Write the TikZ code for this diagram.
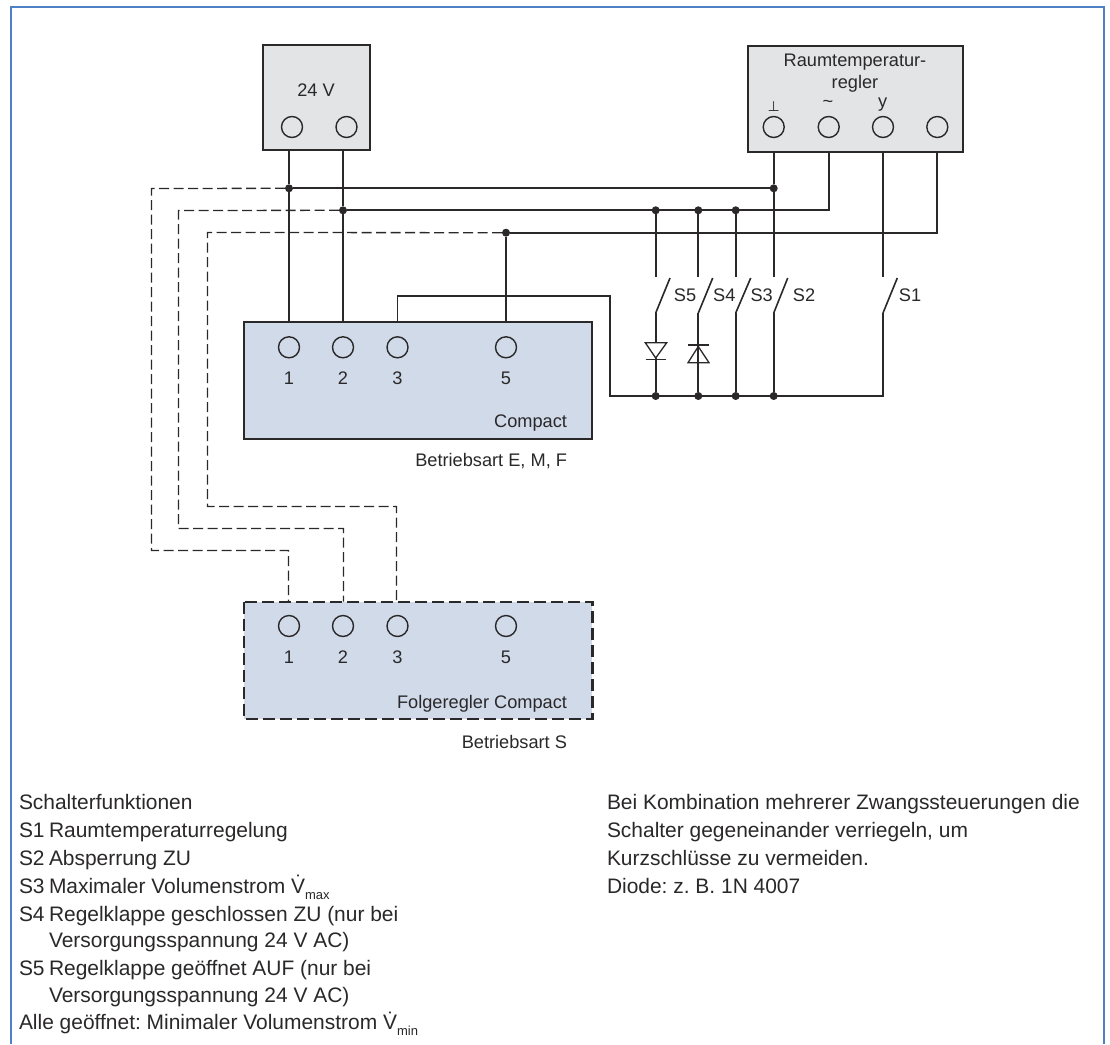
\documentclass[tikz,border=0pt]{standalone}
\usepackage{fontspec}
\setmainfont{Liberation Sans}
\newfontfamily\symfont{DejaVu Sans}
\newcommand{\lowsub}[1]{\raisebox{-0.3em}{\fontsize{13}{13}\selectfont #1}}
\definecolor{framecol}{HTML}{4F7FC4}
\definecolor{greybox}{HTML}{E3E4E6}
\definecolor{bluebox}{HTML}{D0DAE9}
\definecolor{ink}{HTML}{2A2829}
\tikzset{
  every node/.style={text=ink,inner sep=0pt,outer sep=0pt},
  box/.style={draw=ink,line width=2pt,anchor=north west},
  gbox/.style={box,fill=greybox},
  bbox/.style={box,fill=bluebox},
  term/.style={circle,draw=ink,line width=1.4pt,minimum size=21pt},
  dot/.style={circle,fill=ink,minimum size=8pt},
  wire/.style={draw=ink,line width=2pt},
  thin wire/.style={draw=ink,line width=1.7pt},
  dashwire/.style={draw=ink,line width=1.3pt,dash pattern=on 10pt off 4.5pt},
  blade/.style={draw=ink,line width=1.6pt},
  diode/.style={draw=ink,line width=1.3pt},
  lab/.style={font=\fontsize{18.2}{20}\selectfont\frenchspacing,anchor=base},
  leg/.style={font=\fontsize{20.95}{24}\selectfont\frenchspacing,anchor=base west},
}
\begin{document}
\begin{tikzpicture}[x=1pt,y=-1pt]
\useasboundingbox (0,0) rectangle (1110,1044);
\fill[white] (0,0) rectangle (1110,1044);
\draw[framecol,line width=2pt] (10.5,1044) -- (10.5,6.5) -- (1104,6.5) -- (1104,1044);

% boxes
\node[gbox,minimum width=107.5pt,minimum height=105.5pt] (psu) at (262.5,44.5) {};
\node[gbox,minimum width=215pt,minimum height=106pt] (rt) at (747.7,46) {};
\node[bbox,minimum width=348.3pt,minimum height=117.2pt] (cp) at (244,321.5) {};
\node[box,fill=bluebox,draw=none,minimum width=348.3pt,minimum height=117.2pt] (fg) at (244,601.7) {};

% terminals
\node[term] (p1) at (292,127) {};
\node[term] (p2) at (346.5,127) {};
\node[term] (r1) at (773.7,127) {};
\node[term] (r2) at (828.7,127) {};
\node[term] (r3) at (883,127) {};
\node[term] (r4) at (937.3,127) {};
\node[term] (c1) at (289,347.3) {};
\node[term] (c2) at (343,347.3) {};
\node[term] (c3) at (397.5,347.3) {};
\node[term] (c5) at (506,347.3) {};
\node[term] (f1) at (289,626) {};
\node[term] (f2) at (343,626) {};
\node[term] (f3) at (397.5,626) {};
\node[term] (f5) at (506,626) {};

% junctions
\node[dot] (j1) at (289,188.3) {};
\node[dot] (j2) at (343,210.3) {};
\node[dot] (j3) at (506,232.7) {};
\node[dot] (j4) at (773.7,188.3) {};
\node[dot] (j5) at (655.7,210.3) {};
\node[dot] (j6) at (698.3,210.3) {};
\node[dot] (j7) at (735.7,210.3) {};
\node[dot] (b5) at (655.7,396) {};
\node[dot] (b4) at (698.3,396) {};
\node[dot] (b3) at (735.7,396) {};
\node[dot] (b2) at (773.7,396) {};

% switch contacts
\coordinate (s5t) at (655.7,276.7);
\coordinate (s4t) at (698.3,276.7);
\coordinate (s3t) at (735.7,276.7);
\coordinate (s2t) at (773.7,276.7);
\coordinate (s1t) at (883,276.7);
\coordinate (s5b) at (655.7,313);
\coordinate (s4b) at (698.3,313);
\coordinate (s3b) at (735.7,313);
\coordinate (s2b) at (773.7,313);
\coordinate (s1b) at (883,313);
\coordinate (s5o) at (670,278);
\coordinate (s4o) at (712.7,278);
\coordinate (s3o) at (750.7,278);
\coordinate (s2o) at (787.7,278);
\coordinate (s1o) at (897.3,278);
\coordinate (bus) at (883,396);
\coordinate (k1) at (610,296);
\coordinate (k2) at (610,396);
\coordinate (k3) at (397.5,296);

% wiring
\draw[wire] (j1 |- psu.south) -- (j1) -- (j1 |- cp.north);
\draw[wire] (j2 |- psu.south) -- (j2) -- (j2 |- cp.north);
\draw[wire] (j1) -- (j4);
\draw[wire] (j2) -- (r2 |- j2) -- (r2 |- rt.south);
\draw[wire] (j3) -- (r4 |- j3) -- (r4 |- rt.south);
\draw[wire] (j3) -- (j3 |- cp.north);
\draw[wire] (r1 |- rt.south) -- (j4);
\draw[thin wire] (j4) -- (s2t);
\draw[thin wire] (r3 |- rt.south) -- (s1t);
\draw[thin wire] (j5) -- (s5t);
\draw[thin wire] (j6) -- (s4t);
\draw[thin wire] (j7) -- (s3t);
\draw[thin wire] (k3 |- cp.north) -- (k3) -- (k1) -- (k2) -- (bus) -- (s1b);
\draw[thin wire] (s3b) -- (b3);
\draw[thin wire] (s2b) -- (b2);

% switch blades
\draw[blade] (s5b) -- (s5o);
\draw[blade] (s4b) -- (s4o);
\draw[blade] (s3b) -- (s3o);
\draw[blade] (s2b) -- (s2o);
\draw[blade] (s1b) -- (s1o);

% diodes
\draw[thin wire] (s5b) -- (655.7,342.7);
\draw[thin wire] (655.7,358) -- (b5);
\draw[diode] (645.3,342.7) -- (666.7,342.7) -- (655.7,358) -- cycle;
\draw[diode,line width=1.7pt] (645.7,359.5) -- (666,359.5);
\draw[thin wire] (s4b) -- (698.3,345);
\draw[thin wire] (698.3,346) -- (b4);
\draw[diode] (688,362.7) -- (709,362.7) -- (698.3,346.5) -- cycle;
\draw[diode] (688,345) -- (709,345);

% dashed links
\coordinate (a1) at (151.5,188.5);
\coordinate (a2) at (151.5,550.5);
\coordinate (a3) at (288.5,550.5);
\coordinate (d1) at (178.5,210.5);
\coordinate (d2) at (178.5,528.5);
\coordinate (d3) at (343.5,528.5);
\coordinate (e1) at (207.5,232.5);
\coordinate (e2) at (207.5,506.5);
\coordinate (e3) at (396.5,506.5);
\draw[dashwire] (j1) -- (a1) -- (a2) -- (a3) -- (a3 |- fg.north);
\draw[dashwire] (j2) -- (d1) -- (d2) -- (d3) -- (d3 |- fg.north);
\draw[dashwire] (j3) -- (e1) -- (e2) -- (e3) -- (e3 |- fg.north);
\draw[draw=ink,line width=2.4pt,dash pattern=on 12pt off 5pt] (fg.north west) rectangle (fg.south east);

% labels
\node[lab] (t24) at (316,96.7) {24 V};
\node[lab] (rt1) at (855,66) {Raumtemperatur-};
\node[lab] (rt2) at (855,88) {regler};
\node[font=\symfont\fontsize{14}{14}\selectfont] (rgnd) at (773.7,107) {⊥};
\node[lab,anchor=center] (rac) at (828,104) {\textasciitilde};
\node[lab] (ry) at (882.7,107.5) {y};
\node[lab] (n1) at (289,384) {1};
\node[lab] (n2) at (343,384) {2};
\node[lab] (n3) at (397.5,384) {3};
\node[lab] (n5) at (506,384) {5};
\node[lab] (m1) at (289,663.3) {1};
\node[lab] (m2) at (343,663.3) {2};
\node[lab] (m3) at (397.5,663.3) {3};
\node[lab] (m5) at (506,663.3) {5};
\node[lab,anchor=base east] (cpn) at (567,427.7) {Compact};
\node[lab,anchor=base east] (cpm) at (567,466.5) {Betriebsart E, M, F};
\node[lab,anchor=base east] (fgn) at (567,708) {Folgeregler Compact};
\node[lab,anchor=base east] (fgm) at (567,748) {Betriebsart S};
\node[lab] (ls5) at (685,301) {S5};
\node[lab] (ls4) at (724.3,301) {S4};
\node[lab] (ls3) at (761.7,301) {S3};
\node[lab] (ls2) at (804,301) {S2};
\node[lab] (ls1) at (910,301) {S1};

% legend
\node[leg] (g0) at (19,809.3) {Schalterfunktionen};
\node[leg] (g1a) at (19,837) {S1};
\node[leg] (g1) at (49,837) {Raumtemperaturregelung};
\node[leg] (g2a) at (19,865) {S2};
\node[leg] (g2) at (49,865) {Absperrung ZU};
\node[leg] (g3a) at (19,893) {S3};
\node[leg] (g3) at (49,893) {Maximaler Volumenstrom \.V\lowsub{max}};
\node[leg] (g4a) at (19,921) {S4};
\node[leg] (g4) at (49,921) {Regelklappe geschlossen ZU (nur bei};
\node[leg] (g4b) at (49,947.7) {Versorgungsspannung 24 V AC)};
\node[leg] (g5a) at (19,975) {S5};
\node[leg] (g5) at (49,975) {Regelklappe geöffnet AUF (nur bei};
\node[leg] (g5b) at (49,1002.3) {Versorgungsspannung 24 V AC)};
\node[leg] (g6) at (19,1029.3) {Alle geöffnet: Minimaler Volumenstrom \.V\lowsub{min}};

\node[leg] (h1) at (607,809.3) {Bei Kombination mehrerer Zwangssteuerungen die};
\node[leg] (h2) at (607,837) {Schalter gegeneinander verriegeln, um};
\node[leg] (h3) at (607,865) {Kurzschlüsse zu vermeiden.};
\node[leg] (h4) at (607,893) {Diode: z. B. 1N 4007};
\end{tikzpicture}
\end{document}
